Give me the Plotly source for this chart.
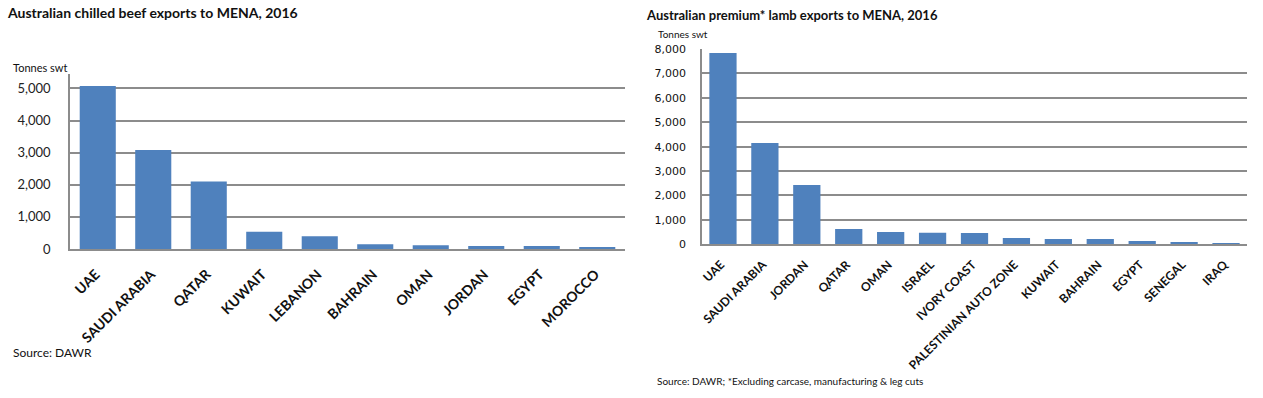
import plotly.graph_objects as go

W, H = 1263, 398

beef_countries = ["UAE", "SAUDI ARABIA", "QATAR", "KUWAIT", "LEBANON", "BAHRAIN",
                  "OMAN", "JORDAN", "EGYPT", "MOROCCO"]
beef_tonnes = [5080, 3080, 2100, 540, 400, 150, 120, 90, 90, 50]

lamb_countries = ["UAE", "SAUDI ARABIA", "JORDAN", "QATAR", "OMAN", "ISRAEL", "IVORY COAST",
                  "PALESTINIAN AUTO ZONE", "KUWAIT", "BAHRAIN", "EGYPT", "SENEGAL", "IRAQ"]
lamb_tonnes = [7840, 4150, 2430, 630, 500, 470, 460, 260, 220, 220, 135, 95, 50]

beef_ticks = [0, 1000, 2000, 3000, 4000, 5000]
lamb_ticks = [0, 1000, 2000, 3000, 4000, 5000, 6000, 7000, 8000]

BLUE = "#4F81BD"
GRID = "#8C8C8C"
CAL = "Lato, 'Open Sans', sans-serif"
TAH = "'DejaVu Sans', Verdana, sans-serif"

def px(x):
    return x / W

def py(y):
    return 1 - y / H

fig = go.Figure()
fig.add_trace(go.Bar(x=beef_countries, y=beef_tonnes, marker_color=BLUE,
                     marker_line_width=0, xaxis="x", yaxis="y", hoverinfo="x+y"))
fig.add_trace(go.Bar(x=lamb_countries, y=lamb_tonnes, marker_color=BLUE,
                     marker_line_width=0, xaxis="x2", yaxis="y2", hoverinfo="x+y"))

fig.update_layout(
    template="none",
    width=W, height=H,
    margin=dict(l=0, r=0, t=0, b=0, pad=0),
    paper_bgcolor="white", plot_bgcolor="white",
    showlegend=False,
    bargap=0.35,
    xaxis=dict(domain=[px(70), px(625)], anchor="y", showgrid=False, automargin=False,
               showline=True, linecolor=GRID, linewidth=1.5, ticks="",
               tickangle=-45, ticklabelstandoff=10, ticklabelshift=-2,
               tickfont=dict(family=CAL, size=14, color="#111111", weight="bold")),
    yaxis=dict(domain=[py(249), py(74)], anchor="x", range=[0, 5450], automargin=False,
               tickvals=beef_ticks, ticktext=[f"{v:,}" for v in beef_ticks],
               showgrid=True, gridcolor=GRID, gridwidth=1.5, zeroline=False,
               showline=True, linecolor=GRID, linewidth=1.5, ticks="",
               ticklabelstandoff=15,
               tickfont=dict(family=CAL, size=13, color="#222222")),
    xaxis2=dict(domain=[px(702), px(1247)], anchor="y2", showgrid=False, automargin=False,
                showline=True, linecolor=GRID, linewidth=1.5, ticks="",
                tickangle=-45, ticklabelstandoff=7, ticklabelshift=-2,
                tickfont=dict(family=CAL, size=12, color="#111111", weight="bold")),
    yaxis2=dict(domain=[py(244.3), py(49)], anchor="x2", range=[0, 8000], automargin=False,
                tickvals=lamb_ticks, ticktext=[f"{v:,}" for v in lamb_ticks],
                showgrid=True, gridcolor=GRID, gridwidth=1.5, zeroline=False,
                showline=True, linecolor=GRID, linewidth=1.5, ticks="",
                ticklabelstandoff=12,
                tickfont=dict(family=TAH, size=11, color="#111111")),
)

annos = [
    dict(text="<b>Australian chilled beef exports to MENA, 2016</b>", x=px(5), y=py(13),
         font=dict(family=CAL, size=14, color="#111111")),
    dict(text="Tonnes swt", x=px(11), y=py(67), font=dict(family=CAL, size=11, color="#111111")),
    dict(text="Source: DAWR", x=px(11), y=py(352), font=dict(family=CAL, size=12, color="#111111")),
    dict(text="<b>Australian premium* lamb exports to MENA, 2016</b>", x=px(644), y=py(15),
         font=dict(family=CAL, size=13, color="#111111")),
    dict(text="Tonnes swt", x=px(656), y=py(34), font=dict(family=CAL, size=10, color="#111111")),
    dict(text="Source: DAWR; *Excluding carcase, manufacturing &amp; leg cuts", x=px(655), y=py(381),
         font=dict(family=CAL, size=10, color="#111111")),
]
for a in annos:
    fig.add_annotation(xref="paper", yref="paper", xanchor="left", yanchor="middle",
                       showarrow=False, **a)

fig.write_html("out.html", config={"displayModeBar": False},
               post_script="document.body.style.margin='0';document.body.style.overflow='hidden';")
